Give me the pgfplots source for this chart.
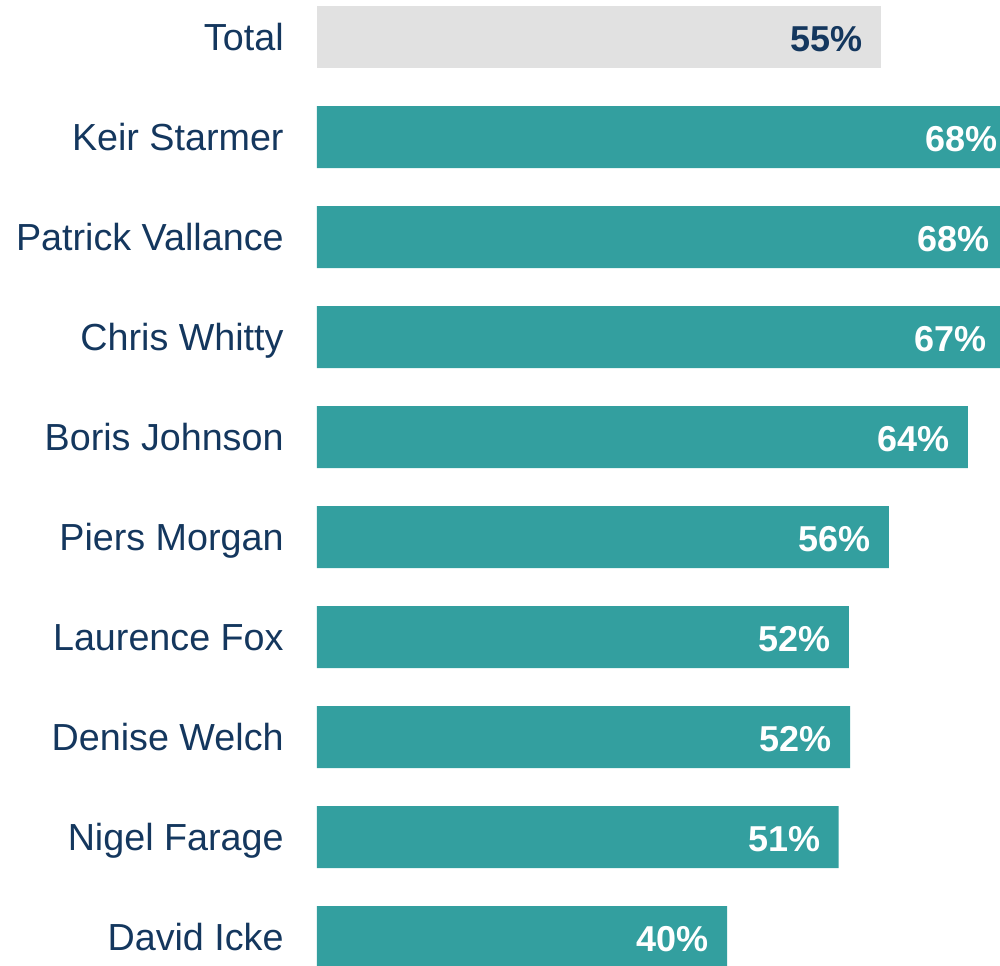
\documentclass[border=0pt]{standalone}
\usepackage{pgfplots}
\usepackage{pgfplotstable}
\pgfplotsset{compat=1.18}
\usepackage{fontspec}
\setmainfont{Liberation Sans}
\definecolor{tealbar}{HTML}{339F9F}
\definecolor{navy}{HTML}{14375E}
\definecolor{lgray}{HTML}{E1E1E1}

\pgfplotstableread{
y val lab
0 55.0 55
}\totaltab
\pgfplotstableread{
y val lab
1 68.2 68
2 67.4 68
3 67.1 67
4 63.5 64
5 55.8 56
6 51.9 52
7 52.0 52
8 50.9 51
9 40.0 40
}\peopletab

\begin{document}
\begin{tikzpicture}
\begin{axis}[
  at={(0,0)}, anchor=south west,
  scale only axis,
  width=358.75pt, height=482.5pt,
  xmin=0, xmax=70,
  ymin=-0.37, ymax=9.28,
  y dir=reverse,
  axis line style={draw=none},
  major tick length=0pt,
  xtick=\empty,
  ytick={0,...,9},
  yticklabels={Total, Keir Starmer, Patrick Vallance, Chris Whitty, Boris Johnson, Piers Morgan, Laurence Fox, Denise Welch, Nigel Farage, David Icke},
  yticklabel style={anchor=base east, inner sep=0pt, xshift=-16.5pt, yshift=-6.5pt,
    font=\fontsize{18.85pt}{22pt}\selectfont, text=navy},
  xbar, bar width=0.62, bar shift=0pt,
  point meta=explicit symbolic,
  nodes near coords={\pgfplotspointmeta\%},
  nodes near coords style={anchor=base east, inner sep=0pt, xshift=-9pt, yshift=-7pt,
    font=\fontsize{18pt}{22pt}\selectfont\bfseries},
]
\addplot[fill=lgray, draw=none, nodes near coords style={text=navy}]
  table[x=val, y=y, meta=lab] {\totaltab};
\addplot[fill=tealbar, draw=none, nodes near coords style={text=white}]
  table[x=val, y=y, meta=lab] {\peopletab};
\end{axis}
\pgfresetboundingbox
\useasboundingbox (-158.5pt,0pt) rectangle (341.5pt,482.5pt);
\end{tikzpicture}
\end{document}
